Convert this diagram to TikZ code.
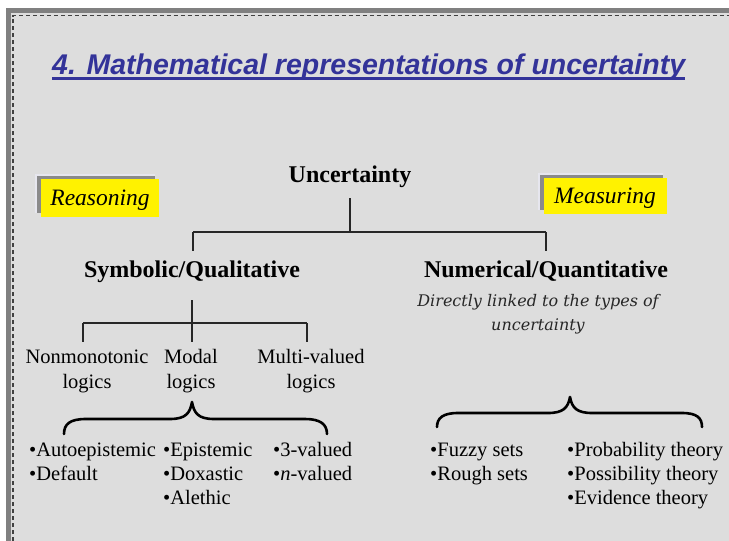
\documentclass[tikz,border=0pt]{standalone}
\usepackage{fontspec}
\setmainfont{Liberation Serif}
\newfontfamily\titlefont{Liberation Sans}
\newfontfamily\noteFont{DejaVu Serif}
\definecolor{titleblue}{HTML}{333399}
\definecolor{slidebg}{HTML}{DDDDDD}
\definecolor{framegray}{HTML}{808080}
\definecolor{shadowlight}{HTML}{E6E6EE}
\definecolor{shadowdark}{HTML}{8A8A8A}
\tikzset{
  txt/.style={inner sep=0pt, font=\fontsize{20.5}{25}\selectfont, align=center},
  head/.style={inner sep=0pt, font=\fontsize{24}{28}\selectfont\bfseries},
  itemtxt/.style={inner sep=0pt, anchor=base west, font=\fontsize{20.5}{24}\selectfont, align=left},
  tag/.style={inner sep=0pt, font=\fontsize{23.5}{28}\selectfont\itshape},
  tree/.style={line width=1.2pt, black!85},
  bracepath/.style={line width=2.6pt, black, line cap=round, line join=round},
}
\begin{document}
\begin{tikzpicture}[x=1pt,y=-1pt]
\useasboundingbox (0,0) rectangle (729,541);
% slide frame
\fill[white] (0,0) rectangle (729,541);
\fill[framegray] (6,8) rectangle (729,541);
\fill[slidebg] (11,13) rectangle (729,541);
\draw[black!75, line width=1.2pt, dash pattern=on 4pt off 3pt] (13,541) -- (13,15.5) -- (729,15.5);

% title
\node[inner sep=0pt, anchor=base west, text=titleblue, font=\titlefont\fontsize{28.5}{32}\selectfont\bfseries\itshape] (title) at (52,74) {4. Mathematical representations of uncertainty};
\draw[titleblue, line width=2.2pt] ([yshift=-4.5pt]title.base west) -- ([yshift=-4.5pt]title.base east);

% tag boxes
\fill[shadowlight] (35,174) rectangle (155,213);
\fill[shadowdark] (37,176) rectangle (155,213);
\fill[yellow] (41,179) rectangle (159,217);
\node[tag, anchor=base] (reason) at (100,205) {Reasoning};

\fill[shadowlight] (538,173) rectangle (663,210);
\fill[shadowdark] (540,175) rectangle (663,210);
\fill[yellow] (544,178) rectangle (667,214);
\node[tag, anchor=base] (measure) at (605,203) {Measuring};

% main tree
\node[head, anchor=base] (unc) at (350,182) {Uncertainty};
\node[head, anchor=base] (sym) at (192,277) {Symbolic/Qualitative};
\node[head, anchor=base] (num) at (546,277) {Numerical/Quantitative};
\node[inner sep=0pt, anchor=base, align=center, font=\noteFont\fontsize{16}{24}\selectfont\itshape, text=black!85] (note) at (538,330) {Directly linked to the types of\\uncertainty};

\coordinate (j0) at (350,232);
\coordinate (jl) at (193,232);
\coordinate (jr) at (546,232);
\draw[tree] (unc.south) ++(0,11) coordinate (u0) -- (j0);
\draw[tree] (jl) -- (jr);
\draw[tree] (jl) -- (193,251) coordinate (sl);
\draw[tree] (jr) -- (546,251) coordinate (sr);

% symbolic subtree
\node[txt, anchor=base] (nonmono) at (87,388) {Nonmonotonic\\logics};
\node[txt, anchor=base] (modal) at (191,388) {Modal\\logics};
\node[txt, anchor=base] (multi) at (311,388) {Multi-valued\\logics};
\coordinate (k0) at (192,300);
\coordinate (kl) at (83,323);
\coordinate (km) at (192,323);
\coordinate (kr) at (307,323);
\draw[tree] (k0) -- (192,342);
\draw[tree] (kl) -- (kr);
\draw[tree] (kl) -- (83,342);
\draw[tree] (kr) -- (307,342);

% braces
\draw[bracepath] (64,434) .. controls (64,424) and (70,419) .. (86,419) -- (170,419)
  .. controls (186,419) and (190,413) .. (192,402)
  .. controls (194,413) and (198,419) .. (214,419) -- (305,419)
  .. controls (320,419) and (327,424) .. (327,434);
\draw[bracepath] (437,427) .. controls (437,418) and (443,413) .. (458,413) -- (548,413)
  .. controls (563,413) and (568,408) .. (570,397)
  .. controls (572,408) and (577,413) .. (592,413) -- (682,413)
  .. controls (697,413) and (702,418) .. (702,427);

% item lists
\node[itemtxt] (l1) at (29,480) {\textbullet Autoepistemic\\\textbullet Default};
\node[itemtxt] (l2) at (163,504) {\textbullet Epistemic\\\textbullet Doxastic\\\textbullet Alethic};
\node[itemtxt] (l3) at (273,480) {\textbullet 3-valued\\\textbullet\textit{n}-valued};
\node[itemtxt] (r1) at (430,480) {\textbullet Fuzzy sets\\\textbullet Rough sets};
\node[itemtxt] (r2) at (567,504) {\textbullet Probability theory\\\textbullet Possibility theory\\\textbullet Evidence theory};
\end{tikzpicture}
\end{document}
